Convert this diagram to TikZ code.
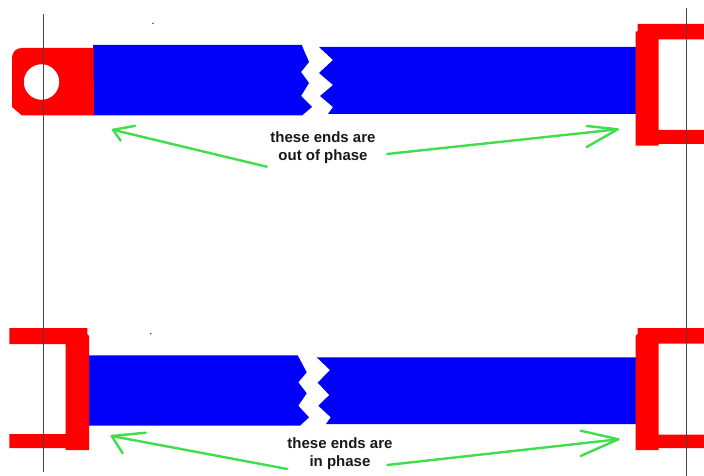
\documentclass[tikz,border=0pt]{standalone}
\usepackage{fontspec}
\setmainfont{Liberation Sans}
\definecolor{barblue}{RGB}{0,0,250}
\definecolor{clampred}{RGB}{255,0,0}
\definecolor{arrowgreen}{RGB}{64,222,76}
\definecolor{guidegray}{RGB}{70,70,70}
\tikzset{
  x=1pt,y=-1pt,
  bar/.style={fill=barblue,draw=none},
  clamp/.style={fill=clampred,draw=none},
  guide/.style={draw=guidegray,line width=1.1pt},
  pointer/.style={draw=arrowgreen,line width=2.4pt,line cap=round,line join=round},
  caption/.style={font=\bfseries\fontsize{15}{18}\selectfont,align=center,text=black!90,inner sep=0pt},
  speck/.style={fill=black!75,draw=none}
}
\begin{document}
\begin{tikzpicture}
\useasboundingbox[fill=white] (0,0) rectangle (704,476);
% top bar
\fill[bar] (93,45) -- (301.7,45) -- (309,62) -- (301,72) -- (309,83) -- (301,96) -- (312,107) -- (302,115.5) -- (93,115.5) -- cycle;
\fill[bar] (319,47) -- (333,60) -- (319,73) -- (333,85) -- (320,96) -- (333,107) -- (328,114) -- (637,114) -- (637,47) -- cycle;
% top-left eye end
\fill[clamp,even odd rule] (22,48) -- (93.5,48) -- (94,115.5) -- (22,115.5) -- (12,107) -- (12,58) .. controls (12,52) and (16,48) .. (22,48) -- cycle
  (41.5,82) circle[radius=17.8];
% top-right clevis
\fill[clamp] (637.5,24) -- (704,24) -- (704,39.5) -- (658.7,39.5) -- (658.7,130) -- (704,130) -- (704,144) -- (658.7,144) -- (658.7,145.7) -- (635.7,145.7) -- (635.7,32) -- (637.5,31) -- cycle;
% bottom bar
\fill[bar] (89,355.3) -- (297.7,355.3) -- (306.7,372.3) -- (298.3,382.3) -- (306.7,393.3) -- (298.3,405.7) -- (309,417.3) -- (300,425.7) -- (89,425.7) -- cycle;
\fill[bar] (316.7,357.3) -- (330,370) -- (317.7,382.7) -- (329.3,395) -- (318.3,405.7) -- (330.7,417.3) -- (326,424) -- (637,424) -- (637,357.3) -- cycle;
% bottom-left clevis
\fill[clamp] (9.3,328) -- (87.3,328) -- (87.3,334) -- (89,336) -- (89,450) -- (65.7,450) -- (65.7,448) -- (9.3,448) -- (9.3,434) -- (65.7,434) -- (65.7,344) -- (9.3,344) -- cycle;
% bottom-right clevis
\fill[clamp] (637.5,328) -- (704,328) -- (704,343.7) -- (658.7,343.7) -- (658.7,434.7) -- (704,434.7) -- (704,448) -- (658.7,448) -- (658.7,450) -- (635.7,450) -- (635.7,336) -- (637.5,334) -- cycle;
% guide lines
\coordinate (guideAtop) at (43.5,14);
\coordinate (guideAbot) at (43.5,472);
\coordinate (guideBtop) at (686.5,8);
\coordinate (guideBbot) at (686.5,476);
\draw[guide] (guideAtop) -- (guideAbot);
\draw[guide] (guideBtop) -- (guideBbot);
% specks
\fill[speck] (153,23.3) circle[radius=0.8];
\fill[speck] (150.7,333.7) circle[radius=0.8];
% captions
\node[caption] (capTop) at (323,147.5) {these ends are\\out of phase};
\node[caption] (capBot) at (340,453.5) {these ends are\\in phase};
% top pointers
\coordinate (a1) at (266.7,166.7);
\coordinate (a1tip) at (113,129.8);
\coordinate (a1u) at (135,125.9);
\coordinate (a1v) at (120.7,140.7);
\draw[pointer] (a1) -- (a1tip);
\draw[pointer] (a1u) -- (a1tip) -- (a1v);
\coordinate (a2) at (387,154);
\coordinate (a2tip) at (617.7,129.3);
\coordinate (a2u) at (586.7,126);
\coordinate (a2v) at (586.7,147);
\draw[pointer] (a2) -- (a2tip);
\draw[pointer] (a2u) -- (a2tip) -- (a2v);
% bottom pointers
\coordinate (b1) at (287.3,469);
\coordinate (b1tip) at (111.7,436);
\coordinate (b1u) at (145.7,432.7);
\coordinate (b1v) at (122.7,453.3);
\draw[pointer] (b1) -- (b1tip);
\draw[pointer] (b1u) -- (b1tip) -- (b1v);
\coordinate (b2) at (387.3,465);
\coordinate (b2tip) at (618.3,439.3);
\coordinate (b2u) at (580.7,430.7);
\coordinate (b2v) at (580.7,456);
\draw[pointer] (b2) -- (b2tip);
\draw[pointer] (b2u) -- (b2tip) -- (b2v);
\end{tikzpicture}
\end{document}
